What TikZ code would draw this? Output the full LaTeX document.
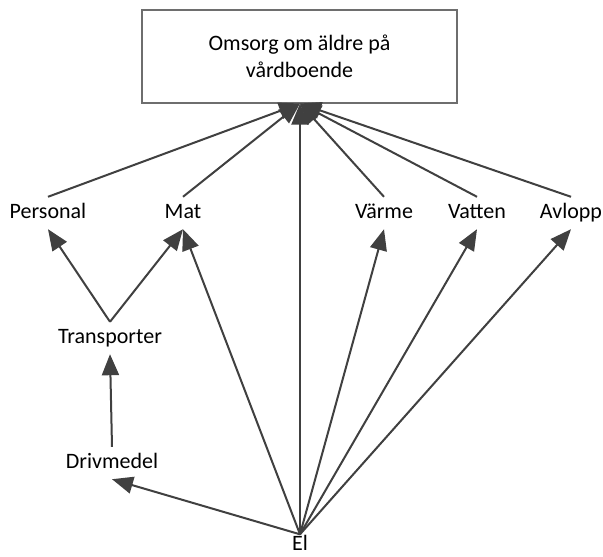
\documentclass[tikz,border=0pt]{standalone}
\usepackage{fontspec}
\setmainfont{Carlito}
\usetikzlibrary{arrows.meta}
\definecolor{linegray}{HTML}{404040}
\definecolor{boxgray}{HTML}{6E6E6E}
\begin{document}
\begin{tikzpicture}[x=1pt,y=-1pt,
  lbl/.style={inner xsep=2pt, inner ysep=6pt, text height=15pt, text depth=5pt, font=\fontsize{22}{27}\selectfont},
  conn/.style={draw=linegray, line width=2pt},
  arr/.style={conn, -{Triangle[length=21pt,width=17pt]}, shorten >=0pt},
  goalbox/.style={draw=boxgray, line width=1.2pt, minimum width=315pt, minimum height=93pt, align=center, font=\fontsize{22}{27}\selectfont, fill=white}
]
\useasboundingbox (0,0) rectangle (603,557);
\fill[white] (0,0) rectangle (603,557);
\node[goalbox] (goal) at (299.5,56.5) {Omsorg om äldre på\\vårdboende};
\coordinate (hub) at (300,103.5);
\node[lbl] (pers) at (48,213) {Personal};
\node[lbl] (mat) at (183,213) {Mat};
\node[lbl] (varme) at (384,213) {Värme};
\node[lbl] (vatten) at (477,213) {Vatten};
\node[lbl] (avlopp) at (571,213) {Avlopp};
\node[lbl] (trans) at (110,338) {Transporter};
\node[lbl] (driv) at (112,463) {Drivmedel};
\node[lbl, inner ysep=1pt, text depth=0pt, anchor=base] (el) at (300,550.5) {El};
% to goal
\draw[arr] (pers.north) -- (hub);
\draw[arr] (mat.north) -- (hub);
\draw[arr] (varme.north) -- (hub);
\draw[arr] (vatten.north) -- (hub);
\draw[arr] (avlopp.north) -- (hub);
\draw[arr] (el.north) -- (hub);
% transporter
\draw[arr] (trans.north) -- (pers.south);
\draw[arr] (trans.north) -- (mat.south);
\draw[arr] (driv.north) -- (trans.south);
% from El
\draw[arr] (el.north) -- (driv.south);
\draw[arr] (el.north) -- (mat.south);
\draw[arr] (el.north) -- (varme.south);
\draw[arr] (el.north) -- (vatten.south);
\draw[arr] (el.north) -- (avlopp.south);
\end{tikzpicture}
\end{document}
